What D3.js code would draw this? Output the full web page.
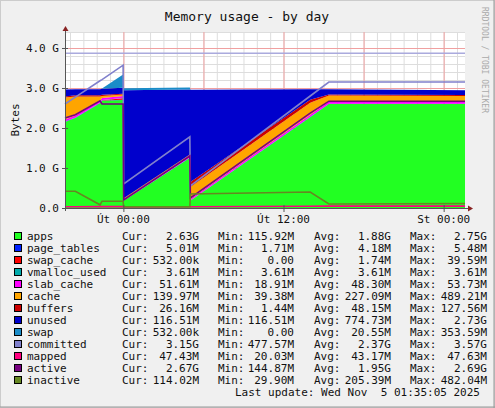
<!DOCTYPE html>
<html><head><meta charset="utf-8">
<script src="https://cdn.jsdelivr.net/npm/d3@7"></script>
<style>body{margin:0;background:#f0f0f0}svg{display:block}text{font-family:"DejaVu Sans Mono",monospace}</style>
</head><body><svg id="c" width="495" height="408"></svg>
<script>
// hours relative to "Út 00:00"
const hours      = [-4.375,-3.6,-1.75,-1.6,-0.02,0.02,4.98,5.02,14.0,15.4,25.6];
const apps       = [2.15,2.25,2.62,2.68,2.70,0.18,1.25,0.18,2.27,2.60,2.60];
const pageTables = [0.005,0.005,0.005,0.005,0.005,0.002,0.004,0.004,0.005,0.005,0.005];
const swapCache  = [0.002,0.002,0.002,0.01,0.04,0.002,0.002,0,0,0,0.0005];
const vmalloc    = [0.0036,0.0036,0.0036,0.0036,0.0036,0.0036,0.0036,0.0036,0.0036,0.0036,0.0036];
const slabCache  = [0.05,0.05,0.05,0.05,0.05,0.02,0.04,0.04,0.05,0.052,0.052];
const cache      = [0.55,0.48,0.11,0.05,0.04,0.03,0.03,0.30,0.30,0.15,0.14];
const buffers    = [0.03,0.03,0.03,0.03,0.02,0.005,0.005,0.12,0.08,0.03,0.026];
const unused     = [0.17,0.15,0.15,0.15,0.15,2.70,1.63,2.31,0.26,0.13,0.117];
const swap       = [0,0,0,0.01,0.33,0.05,0.05,0,0,0,0.0005];
const committed  = [2.6,2.77,3.18,3.21,3.57,0.6,1.78,0.55,2.8,3.15,3.15];
const mapped     = [0.03,0.03,0.035,0.035,0.035,0.025,0.03,0.03,0.045,0.047,0.047];
const active     = [2.25,2.33,2.68,2.6,2.6,0.2,1.3,0.25,2.37,2.67,2.67];
const inactive   = [0.42,0.42,0.08,0.17,0.17,0.03,0.03,0.35,0.40,0.10,0.114];
const limitLine  = [3.87,3.87,3.87,3.87,3.87,3.87,3.87,3.87,3.87,3.87,3.87];
const yTicks = [0,1,2,3,4];
const yTickLabels = ["0.0","1.0 G","2.0 G","3.0 G","4.0 G"];
const xTicks = [0,12,24];
const xTickLabels = ["Út 00:00","Út 12:00","St 00:00"];
const legend = [
 ["apps","2.63G","115.92M","1.88G","2.75G"],
 ["page_tables","5.01M","1.71M","4.18M","5.48M"],
 ["swap_cache","532.00k","0.00","1.74M","39.59M"],
 ["vmalloc_used","3.61M","3.61M","3.61M","3.61M"],
 ["slab_cache","51.61M","18.91M","48.30M","53.73M"],
 ["cache","139.97M","39.38M","227.09M","489.21M"],
 ["buffers","26.16M","1.44M","48.15M","127.56M"],
 ["unused","116.51M","116.51M","774.73M","2.73G"],
 ["swap","532.00k","0.00","20.55M","353.59M"],
 ["committed","3.15G","477.57M","2.37G","3.57G"],
 ["mapped","47.43M","20.03M","43.17M","47.63M"],
 ["active","2.67G","144.87M","1.95G","2.69G"],
 ["inactive","114.02M","29.90M","205.39M","482.04M"]];
const colors = {apps:"#22ff22",page_tables:"#0022ff",swap_cache:"#ff0000",vmalloc_used:"#00aaaa",
 slab_cache:"#ff00ff",cache:"#ffa500",buffers:"#cc0000",unused:"#0000cc",swap:"#1a8cc8",
 committed:"#8080cc",mapped:"#ff0080",active:"#770080",inactive:"#668822"};
const stackSeries = {apps,page_tables:pageTables,swap_cache:swapCache,vmalloc_used:vmalloc,slab_cache:slabCache,cache,buffers,unused,swap};
const lineSeries = {committed,mapped,active,inactive};

const svg = d3.select("#c");
svg.append("rect").attr("x",0.5).attr("y",0.5).attr("width",494).attr("height",407).attr("fill","#f0f0f0").attr("stroke","#cccccc");
svg.append("line").attr("x1",494).attr("x2",494).attr("y1",0).attr("y2",408).attr("stroke","#999");
svg.append("line").attr("x1",0).attr("x2",495).attr("y1",407).attr("y2",407).attr("stroke","#999");
const x = d3.scaleLinear().domain([-4.375,25.6]).range([65,465]);
const y = d3.scaleLinear().domain([0,4.4]).range([208,32]);
svg.append("rect").attr("x",65).attr("y",32).attr("width",400).attr("height",176).attr("fill","#fff");
const g = svg.append("g");
// grid
d3.range(-4,26,1).forEach(h=>g.append("line").attr("x1",x(h)+0.5).attr("x2",x(h)+0.5).attr("y1",32).attr("y2",208).attr("stroke","#dddddd"));
d3.range(0,4.41,0.2).forEach(v=>g.append("line").attr("x1",65).attr("x2",465).attr("y1",Math.round(y(v))+0.5).attr("y2",Math.round(y(v))+0.5).attr("stroke","#dddddd"));
d3.range(0,25,6).forEach(h=>g.append("line").attr("x1",x(h)+0.5).attr("x2",x(h)+0.5).attr("y1",32).attr("y2",208).attr("stroke","#f0a0a0"));
yTicks.forEach(v=>g.append("line").attr("x1",65).attr("x2",465).attr("y1",Math.round(y(v))+0.5).attr("y2",Math.round(y(v))+0.5).attr("stroke","#f0a0a0"));
// stack
const rows = hours.map((h,i)=>{const r={h};for(const k in stackSeries)r[k]=stackSeries[k][i];return r;});
const keys = Object.keys(stackSeries);
const st = d3.stack().keys(keys)(rows);
const area = d3.area().x(d=>x(d.data.h)).y0(d=>y(d[0])).y1(d=>y(d[1]));
st.forEach(s=>g.append("path").attr("d",area(s)).attr("fill",colors[s.key]));
const line = d3.line().x((d,i)=>x(hours[i])).y(d=>y(d));
g.append("path").attr("d",line(limitLine)).attr("fill","none").attr("stroke","#aaaadd").attr("stroke-width",1.5);
for(const k in lineSeries) g.append("path").attr("d",line(lineSeries[k])).attr("fill","none").attr("stroke",colors[k]).attr("stroke-width",1.6);
// axes
svg.append("line").attr("x1",65.5).attr("x2",65.5).attr("y1",30).attr("y2",211).attr("stroke","#555");
svg.append("line").attr("x1",62).attr("x2",469).attr("y1",208.5).attr("y2",208.5).attr("stroke","#555");
svg.append("path").attr("d","M62.5,31 L68.5,31 L65.5,26 Z").attr("fill","#882222");
svg.append("path").attr("d","M468,205.5 L468,211.5 L473,208.5 Z").attr("fill","#882222");
yTicks.forEach((v,i)=>{
  svg.append("line").attr("x1",62).attr("x2",68).attr("y1",Math.round(y(v))+0.5).attr("y2",Math.round(y(v))+0.5).attr("stroke","#555");
  svg.append("text").attr("x",59).attr("y",y(v)+4).attr("text-anchor","end").attr("font-size",11).attr("fill","#111").text(yTickLabels[i]);
});
xTicks.forEach((h,i)=>{
  svg.append("line").attr("x1",x(h)+0.5).attr("x2",x(h)+0.5).attr("y1",205).attr("y2",212).attr("stroke","#555");
  svg.append("text").attr("x",x(h)).attr("y",223).attr("text-anchor","middle").attr("font-size",11).attr("fill","#111").text(xTickLabels[i]);
});
svg.append("text").attr("transform","translate(19,120) rotate(-90)").attr("text-anchor","middle").attr("font-size",11).attr("fill","#111").text("Bytes");
svg.append("text").attr("x",247).attr("y",21).attr("text-anchor","middle").attr("font-size",13).attr("fill","#111").text("Memory usage - by day");
svg.append("text").attr("transform","translate(482,7) rotate(90)").attr("font-size",8).attr("fill","#aaa").text("RRDTOOL / TOBI OETIKER");
// legend
legend.forEach((r,i)=>{
  const yy = 240+i*12;
  svg.append("rect").attr("x",14.5).attr("y",yy-7.5).attr("width",7).attr("height",7).attr("fill",colors[r[0]]).attr("stroke","#000").attr("stroke-width",1);
  const t=(xx,s,a)=>svg.append("text").attr("x",xx).attr("y",yy).attr("font-size",11).attr("fill","#111").attr("text-anchor",a||"start").text(s);
  t(27,r[0]); t(122,"Cur:"); t(199,r[1],"end"); t(218,"Min:"); t(294,r[2],"end");
  t(314,"Avg:"); t(391,r[3],"end"); t(410,"Max:"); t(487,r[4],"end");
});
svg.append("text").attr("x",480).attr("y",396).attr("text-anchor","end").attr("font-size",11).attr("fill","#111").attr("xml:space","preserve").text("Last update: Wed Nov  5 01:35:05 2025");
</script></body></html>
